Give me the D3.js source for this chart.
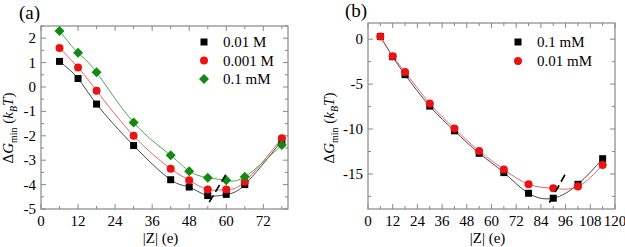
<!DOCTYPE html>
<html>
<head>
<meta charset="utf-8">
<script src="https://cdn.jsdelivr.net/npm/d3@7"></script>
<style>
  body { margin: 0; background: #fff; }
  svg text { font-family: "Liberation Serif", "DejaVu Serif", serif; }
</style>
</head>
<body>
<svg id="chart" width="625" height="247"></svg>
<script>
// |Z| charges
const zA = [6, 12, 18, 30, 42, 48, 54, 60, 66, 78];
const zB = [6, 12, 18, 30, 42, 54, 66, 78, 90, 102, 114];

// panel (a) series
const a001M  = [1.05, 0.35, -0.7, -2.4, -3.8, -4.1, -4.45, -4.4, -4.0, -2.2];
const a0001M = [1.6, 0.8, -0.15, -2.0, -3.35, -3.82, -4.2, -4.2, -3.88, -2.1];
const a01mM  = [2.3, 1.4, 0.6, -1.45, -2.8, -3.45, -3.72, -3.82, -3.68, -2.38];

// panel (b) series
const b01mM  = [0.3, -1.95, -3.95, -7.45, -10.2, -12.7, -14.85, -17.15, -17.7, -16.15, -13.3];
const b001mM = [0.3, -1.9, -3.65, -7.15, -9.95, -12.45, -14.5, -16.15, -16.6, -16.4, -14.0];

// dashed guide lines (data units)
const guideA = [[54.5, -4.72], [60.3, -3.5]];
const guideB = [[88.1, -18.2], [96.5, -14.75]];

const labelsA = ['0.01 M', '0.001 M', '0.1 mM'];
const labelsB = ['0.1 mM', '0.01 mM'];

const xTicksA = [0, 12, 24, 36, 48, 60, 72];
const xTicksB = [0, 12, 24, 36, 48, 60, 72, 84, 96, 108, 120];
const yTicksA = [2, 1, 0, -1, -2, -3, -4, -5];
const yTicksB = [0, -5, -10, -15];

const svg = d3.select('#chart');

const styles = {
  square:  { fill: '#000000', line: '#333333' },
  circle:  { fill: '#ee1111', line: '#e85050' },
  diamond: { fill: '#128a12', line: '#3aa03a' }
};

function marker(g, type, x, y) {
  const c = styles[type].fill;
  if (type === 'square') {
    g.append('rect').attr('x', x - 3.5).attr('y', y - 3.5).attr('width', 7).attr('height', 7).attr('fill', c);
  } else if (type === 'circle') {
    g.append('circle').attr('cx', x).attr('cy', y).attr('r', 4).attr('fill', c);
  } else {
    const s = 5;
    g.append('path').attr('d', `M${x},${y - s}L${x + s},${y}L${x},${y + s}L${x - s},${y}Z`).attr('fill', c);
  }
}

function panel(opt) {
  const x = d3.scaleLinear().domain(opt.xDomain).range([opt.left, opt.right]);
  const y = d3.scaleLinear().domain(opt.yDomain).range([opt.bottom, opt.top]);
  const g = svg.append('g');
  const frame = '#888';

  // minor + major ticks, all four sides, inward
  const xMinor = d3.range(opt.xDomain[0], opt.xDomain[1] + 0.001, opt.xMinor);
  const yMinor = d3.range(Math.ceil(opt.yDomain[0] / opt.yMinor) * opt.yMinor, opt.yDomain[1] + 0.001, opt.yMinor);
  xMinor.forEach(v => {
    const major = Math.abs(v / opt.xMajor - Math.round(v / opt.xMajor)) < 1e-6;
    const len = major ? 5 : 3;
    g.append('line').attr('x1', x(v)).attr('x2', x(v)).attr('y1', opt.bottom).attr('y2', opt.bottom - len).attr('stroke', frame);
    g.append('line').attr('x1', x(v)).attr('x2', x(v)).attr('y1', opt.top).attr('y2', opt.top + len).attr('stroke', frame);
  });
  yMinor.forEach(v => {
    const major = Math.abs(v / opt.yMajor - Math.round(v / opt.yMajor)) < 1e-6;
    const len = major ? 5 : 3;
    g.append('line').attr('y1', y(v)).attr('y2', y(v)).attr('x1', opt.left).attr('x2', opt.left + len).attr('stroke', frame);
    g.append('line').attr('y1', y(v)).attr('y2', y(v)).attr('x1', opt.right).attr('x2', opt.right - len).attr('stroke', frame);
  });

  g.append('rect')
    .attr('x', opt.left).attr('y', opt.top)
    .attr('width', opt.right - opt.left).attr('height', opt.bottom - opt.top)
    .attr('fill', 'none').attr('stroke', frame).attr('stroke-width', 1.2);

  // tick labels
  g.selectAll('.xl').data(opt.xTicks).enter().append('text')
    .attr('x', d => x(d)).attr('y', opt.bottom + 17)
    .attr('text-anchor', 'middle').attr('font-size', 15).text(d => d);
  g.selectAll('.yl').data(opt.yTicks).enter().append('text')
    .attr('x', opt.left - 5).attr('y', d => y(d) + 5)
    .attr('text-anchor', 'end').attr('font-size', 15).text(d => d);

  // axis titles
  const xt = g.append('text').attr('x', (opt.left + opt.right) / 2 - 4).attr('y', 243)
    .attr('text-anchor', 'middle').attr('font-size', 15);
  xt.append('tspan').text('|');
  xt.append('tspan').text('Z');
  xt.append('tspan').text('| (e)');

  const yt = g.append('text')
    .attr('transform', `translate(${opt.yTitleX},${opt.yTitleY}) rotate(-90)`)
    .attr('text-anchor', 'middle').attr('font-size', 15);
  yt.append('tspan').text('Δ');
  yt.append('tspan').text('G').attr('font-style', 'italic');
  yt.append('tspan').text('min').attr('font-size', 10).attr('dy', 4);
  yt.append('tspan').text(' (').attr('dy', -4);
  yt.append('tspan').text('k').attr('font-style', 'italic');
  yt.append('tspan').text('B').attr('font-size', 10).attr('font-style', 'italic').attr('dy', 4);
  yt.append('tspan').text('T').attr('font-style', 'italic').attr('dy', -4);
  yt.append('tspan').text(')');

  g.append('text').attr('x', opt.tagX).attr('y', opt.tagY).attr('font-size', 19).text(opt.tag);

  // series: line then markers
  const line = d3.line().x(d => x(d[0])).y(d => y(d[1])).curve(d3.curveNatural);
  opt.series.forEach(s => {
    const pts = opt.z.map((v, i) => [v, s.values[i]]);
    g.append('path').attr('d', line(pts)).attr('fill', 'none')
      .attr('stroke', styles[s.type].line).attr('stroke-width', 0.9);
  });
  opt.series.forEach(s => {
    opt.z.forEach((v, i) => marker(g, s.type, x(v), y(s.values[i])));
  });

  g.append('path').attr('d', d3.line().x(d => x(d[0])).y(d => y(d[1]))(opt.guide))
    .attr('fill', 'none').attr('stroke', '#000').attr('stroke-width', 1.6).attr('stroke-dasharray', '8,4');

  // legend
  opt.series.forEach((s, i) => {
    const ly = opt.legendY + i * opt.legendStep;
    marker(g, s.type, opt.legendX, ly);
    g.append('text').attr('x', opt.legendX + 19).attr('y', ly + 5).attr('font-size', 15).text(s.label);
  });
}

panel({
  left: 41, right: 288, top: 26, bottom: 209,
  xDomain: [0, 80], yDomain: [-5, 2.5],
  xMajor: 12, xMinor: 6, yMajor: 1, yMinor: 0.5,
  xTicks: xTicksA, yTicks: yTicksA,
  z: zA,
  series: [
    { type: 'square', values: a001M, label: labelsA[0] },
    { type: 'circle', values: a0001M, label: labelsA[1] },
    { type: 'diamond', values: a01mM, label: labelsA[2] }
  ],
  guide: guideA,
  legendX: 204, legendY: 42, legendStep: 18.5,
  yTitleX: 13, yTitleY: 128,
  tag: '(a)', tagX: 19, tagY: 19
});

panel({
  left: 368, right: 615, top: 23, bottom: 209,
  xDomain: [0, 120], yDomain: [-18.9, 1.8],
  xMajor: 12, xMinor: 6, yMajor: 5, yMinor: 2.5,
  xTicks: xTicksB, yTicks: yTicksB,
  z: zB,
  series: [
    { type: 'square', values: b01mM, label: labelsB[0] },
    { type: 'circle', values: b001mM, label: labelsB[1] }
  ],
  guide: guideB,
  legendX: 518, legendY: 42, legendStep: 19,
  yTitleX: 334, yTitleY: 128,
  tag: '(b)', tagX: 345, tagY: 17
});
</script>
</body>
</html>
